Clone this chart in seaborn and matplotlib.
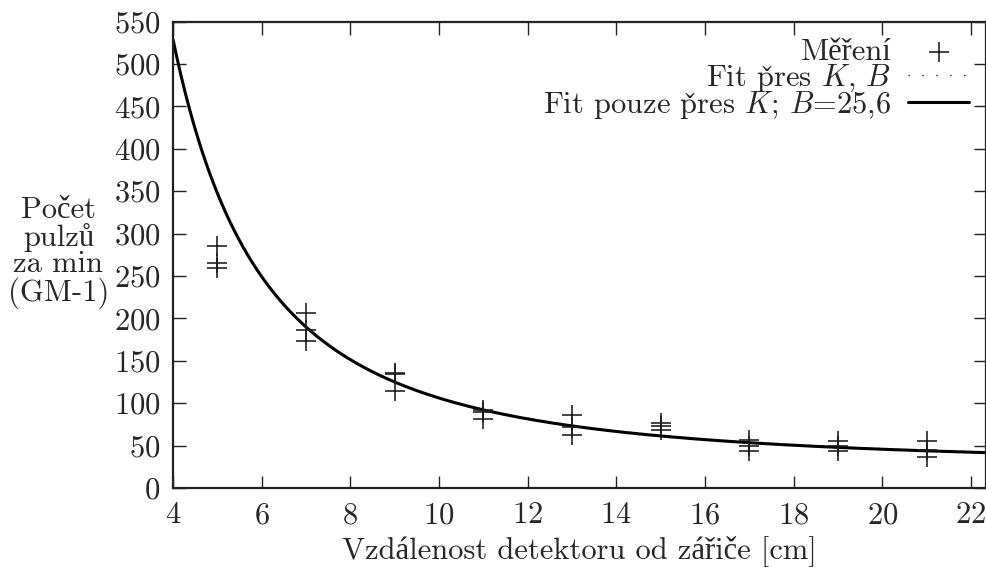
import numpy as np
import pandas as pd
import seaborn as sns
import matplotlib
matplotlib.use("Agg")
import matplotlib.pyplot as plt

# Measured counts per minute (GM-1), three readings per distance
distance_cm = [5, 5, 5, 7, 7, 7, 9, 9, 9, 11, 11, 11, 13, 13, 13,
               15, 15, 15, 17, 17, 17, 19, 19, 19, 21, 21, 21]
counts = [285, 265, 260, 206, 186, 173, 136, 134, 115, 92, 90, 81, 86, 72, 62,
          77, 73, 69, 57, 50, 44, 56, 49, 44, 56, 45, 37]

# Fit parameters of N = K / r^2 + B
fit_KB = {"K": 8030.0, "B": 26.4}
fit_K_only = {"K": 8054.0, "B": 25.6}

x_ticks = [4, 6, 8, 10, 12, 14, 16, 18, 20, 22]
y_ticks = list(range(0, 551, 50))
x_range = (4, 22.34)
y_range = (0, 550)

sns.set_style("ticks")
plt.rcParams["font.family"] = ["cmr10", "Liberation Serif"]
plt.rcParams["mathtext.fontset"] = "cm"
plt.rcParams["axes.unicode_minus"] = False
plt.rcParams["axes.formatter.use_mathtext"] = True

FS = 22
fig = plt.figure(figsize=(9.87, 5.67), dpi=100)
ax = fig.add_axes([0.1753, 0.1393, 0.8237, 0.8224])

meas = pd.DataFrame({"r": distance_cm, "N": counts})
r = np.linspace(x_range[0], x_range[1], 400)
curve_KB = pd.DataFrame({"r": r, "N": fit_KB["K"] / r**2 + fit_KB["B"]})
curve_K = pd.DataFrame({"r": r, "N": fit_K_only["K"] / r**2 + fit_K_only["B"]})

# labels with math parts are typeset by mathtext, so the caron is written as an accent there
lbl_meas = "Měření"
lbl_KB = r"Fit p$\mathrm{\check{r}}$es $K$, $B$"
lbl_K = r"Fit pouze p$\mathrm{\check{r}}$es $K$; $B$=25,6"

sns.scatterplot(data=meas, x="r", y="N", marker="+", s=210, color="#1a1a1a",
                linewidth=1.15, ax=ax, label=lbl_meas, zorder=3)
sns.lineplot(data=curve_KB, x="r", y="N", color="#222222", linewidth=1.0,
             linestyle=(0, (1, 9)), ax=ax, label=lbl_KB, zorder=2)
sns.lineplot(data=curve_K, x="r", y="N", color="black", linewidth=2.2,
             ax=ax, label=lbl_K, zorder=2)

ax.set_xlim(*x_range)
ax.set_ylim(*y_range)
ax.set_xticks(x_ticks)
ax.set_yticks(y_ticks)
ax.tick_params(direction="in", length=9, width=1.0, top=True, right=True,
               labelsize=FS, pad=10, color="#222222")
ax.tick_params(axis="y", pad=9)
for sp in ax.spines.values():
    sp.set_linewidth(1.6)
    sp.set_color("#222222")
    sp.set_visible(True)

ax.set_xlabel("Vzdálenost detektoru od zářiče [cm]", fontsize=FS, labelpad=4)
ax.set_ylabel("Počet\npulzů\nza min\n(GM-1)", fontsize=FS, rotation=0,
              ha="center", va="center", linespacing=0.95)
ax.yaxis.set_label_coords(-0.141, 0.505)

leg = ax.legend(loc="upper right", frameon=False, markerfirst=False,
                fontsize=FS, handlelength=2.0, handletextpad=0.55,
                labelspacing=-0.12, borderaxespad=0.35, borderpad=0.2)

fig.savefig("out.png", dpi=100)
